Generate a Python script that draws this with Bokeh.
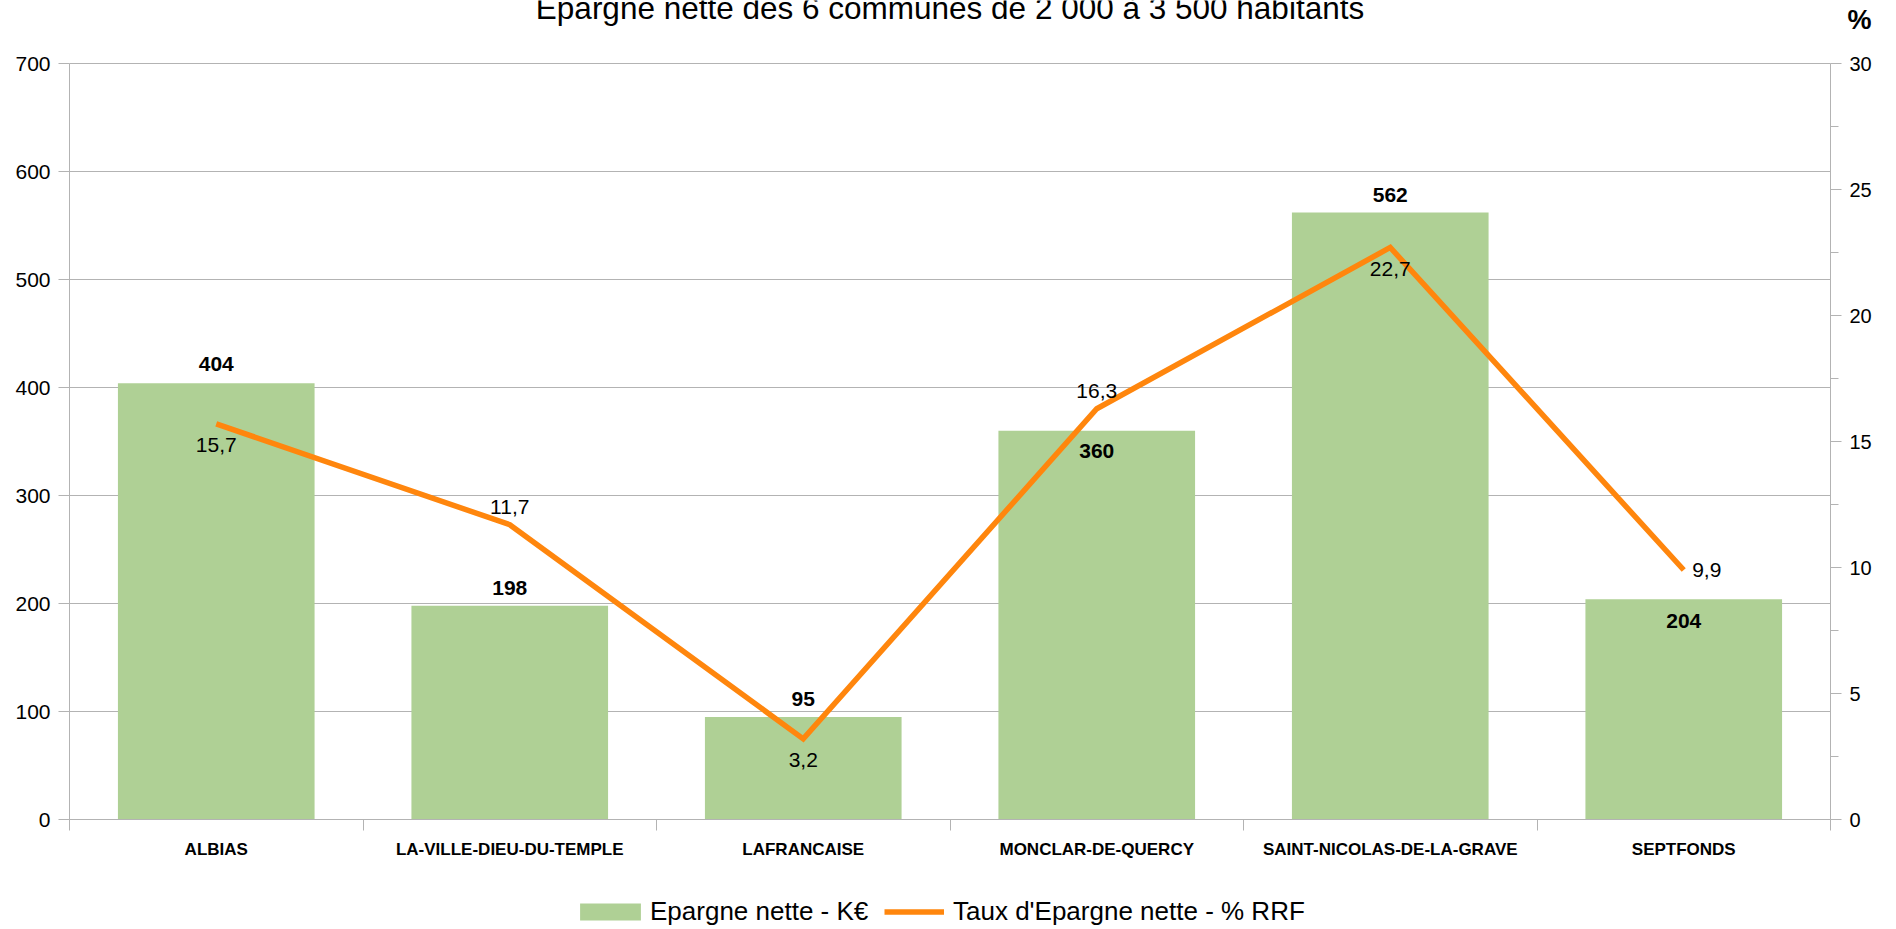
from bokeh.plotting import figure
from bokeh.models import (ColumnDataSource, LinearAxis, Range1d, FixedTicker, LabelSet,
                          Label, Legend, LegendItem)
from bokeh.core.properties import value
from bokeh.embed import file_html
from bokeh.resources import INLINE

categories = ["ALBIAS", "LA-VILLE-DIEU-DU-TEMPLE", "LAFRANCAISE", "MONCLAR-DE-QUERCY",
              "SAINT-NICOLAS-DE-LA-GRAVE", "SEPTFONDS"]
epargne = [404, 198, 95, 360, 562, 204]
taux = [15.7, 11.7, 3.2, 16.3, 22.7, 9.9]
left_ticks = [0, 100, 200, 300, 400, 500, 600, 700]
right_ticks = [0, 5, 10, 15, 20, 25, 30]
title_text = "Epargne nette des 6 communes de 2 000 à 3 500 habitants"
pct_symbol = "%"
legend_labels = ["Epargne nette - K€", "Taux d'Epargne nette - % RRF"]

# label offsets (screen px)
bar_label_dy = [19, 18, 18, -20, 18, -22]
line_label_dx = [0, 0, 0, 0, 0, 23]
line_label_dy = [-21, 18, -21, 18, -22, 0]

GREEN = "#afd095"
ORANGE = "#ff860d"
GRID = "#b3b3b3"
FONT = "Liberation Sans"

# canvas geometry (px)
W, H = 1890, 927
X_LEFT, X_RIGHT = 69, 1830      # plot area left / right edges
Y_BOT, Y_TOP = 819, 63          # plot area bottom (0) / top (max)
LEFT_MAX = left_ticks[-1]
RIGHT_MAX = right_ticks[-1]

n = len(categories)
xs = [i + 0.5 for i in range(n)]
span = Y_BOT - Y_TOP


def y_at(py, vmax):
    return (Y_BOT - py) / span * vmax


def x_at(px):
    return (px - X_LEFT) / (X_RIGHT - X_LEFT) * n


src = ColumnDataSource(dict(
    x=xs, cat=categories, ep=epargne, taux=taux,
    ep_txt=[str(v) for v in epargne],
    taux_txt=[f"{v:.1f}".replace(".", ",") for v in taux],
    bdy=bar_label_dy, ldx=line_label_dx, ldy=line_label_dy,
))

p = figure(width=W, height=H, x_range=Range1d(x_at(0), x_at(W)),
           y_range=Range1d(y_at(H, LEFT_MAX), y_at(0, LEFT_MAX)),
           output_backend="svg", toolbar_location=None,
           min_border=0, min_border_left=0, min_border_right=0,
           min_border_top=0, min_border_bottom=0)
p.outline_line_color = None
p.background_fill_color = "white"
p.border_fill_color = "white"
p.extra_y_ranges = {"pct": Range1d(y_at(H, RIGHT_MAX), y_at(0, RIGHT_MAX))}

# x axis drawn at y = 0
xa = p.xaxis[0]
xa.fixed_location = 0
xa.bounds = (0, n)
xa.ticker = FixedTicker(ticks=xs, minor_ticks=list(range(n + 1)))
xa.major_label_overrides = {x: c for x, c in zip(xs, categories)}
xa.major_tick_line_color = None
xa.major_tick_out = 11
xa.major_tick_in = 0
xa.minor_tick_line_color = GRID
xa.minor_tick_out = 11
xa.minor_tick_in = 0
xa.axis_line_color = GRID
xa.major_label_text_font = FONT
xa.major_label_text_font_style = "bold"
xa.major_label_text_font_size = "17px"
xa.major_label_text_color = "black"
xa.major_label_standoff = 9

# left axis drawn at x = 0
ya = p.yaxis[0]
ya.fixed_location = 0
ya.bounds = (0, LEFT_MAX)
ya.ticker = FixedTicker(ticks=left_ticks, minor_ticks=[])
ya.axis_line_color = GRID
ya.major_tick_line_color = GRID
ya.major_tick_out = 11
ya.major_tick_in = 0
ya.minor_tick_line_color = None
ya.major_label_text_font = FONT
ya.major_label_text_font_size = "21px"
ya.major_label_text_color = "black"
ya.major_label_standoff = 8

# right axis drawn at x = n
ra = LinearAxis(y_range_name="pct", bounds=(0, RIGHT_MAX), fixed_location=n,
                ticker=FixedTicker(ticks=right_ticks,
                                   minor_ticks=[v + 2.5 for v in right_ticks[:-1]]))
ra.axis_line_color = GRID
ra.major_tick_line_color = GRID
ra.major_tick_out = 11
ra.major_tick_in = 0
ra.minor_tick_line_color = GRID
ra.minor_tick_out = 8
ra.minor_tick_in = 0
ra.major_label_text_font = FONT
ra.major_label_text_font_size = "20px"
ra.major_label_text_color = "black"
ra.major_label_standoff = 8
p.add_layout(ra, "right")

# "%" unit above the right axis
pct_pos = round(y_at(20, RIGHT_MAX), 2)
ua = LinearAxis(y_range_name="pct", fixed_location=n,
                ticker=FixedTicker(ticks=[pct_pos], minor_ticks=[]))
ua.major_label_overrides = {pct_pos: pct_symbol}
ua.axis_line_color = None
ua.major_tick_line_color = None
ua.minor_tick_line_color = None
ua.major_tick_out = 0
ua.major_tick_in = 0
ua.major_label_standoff = 17
ua.major_label_text_font = FONT
ua.major_label_text_font_size = "27px"
ua.major_label_text_font_style = "bold"
ua.major_label_text_color = "black"
p.add_layout(ua, "right")

p.xgrid.visible = False
grid = p.ygrid[0]
if "cross_bounds" in grid.properties():
    grid.ticker = FixedTicker(ticks=left_ticks)
    grid.grid_line_color = GRID
    grid.grid_line_width = 1
    grid.cross_bounds = (0, n)
else:
    grid.visible = False
    p.segment(x0=[0] * len(left_ticks), x1=[n] * len(left_ticks), y0=left_ticks,
              y1=left_ticks, line_color=GRID, line_width=1, level="underlay")

bars = p.vbar(x="x", top="ep", width=0.67, source=src, fill_color=GREEN, line_color=None)
line = p.line(x="x", y="taux", source=src, y_range_name="pct", line_color=ORANGE,
              line_width=5.5, line_join="miter")

p.add_layout(LabelSet(x="x", y="ep", text="ep_txt", source=src, y_offset="bdy",
                      text_align="center", text_baseline="middle", text_font=value(FONT),
                      text_font_size=value("21px"), text_font_style="bold",
                      text_color="black"))
p.add_layout(LabelSet(x="x", y="taux", text="taux_txt", source=src, y_range_name="pct",
                      x_offset="ldx", y_offset="ldy",
                      text_align="center", text_baseline="middle", text_font=value(FONT),
                      text_font_size=value("21px"), text_color="black"))

p.add_layout(Label(x=n / 2, y=y_at(7, LEFT_MAX), text=title_text, text_align="center",
                   text_baseline="alphabetic", text_font=FONT, text_font_size="31.5px",
                   text_color="black"))

common = dict(orientation="horizontal", glyph_height=21, padding=0, margin=0,
              border_line_color=None, background_fill_alpha=0, label_text_font=FONT,
              label_text_font_size="26px", label_text_color="black")
legend1 = Legend(items=[LegendItem(label=legend_labels[0], renderers=[bars])],
                 location=(572, 0), glyph_width=76, label_standoff=2, **common)
legend2 = Legend(items=[LegendItem(label=legend_labels[1], renderers=[line])],
                 location=(884, 0), glyph_width=60, label_standoff=9, **common)
p.add_layout(legend1)
p.add_layout(legend2)

open("out.html", "w").write(file_html(p, INLINE))
